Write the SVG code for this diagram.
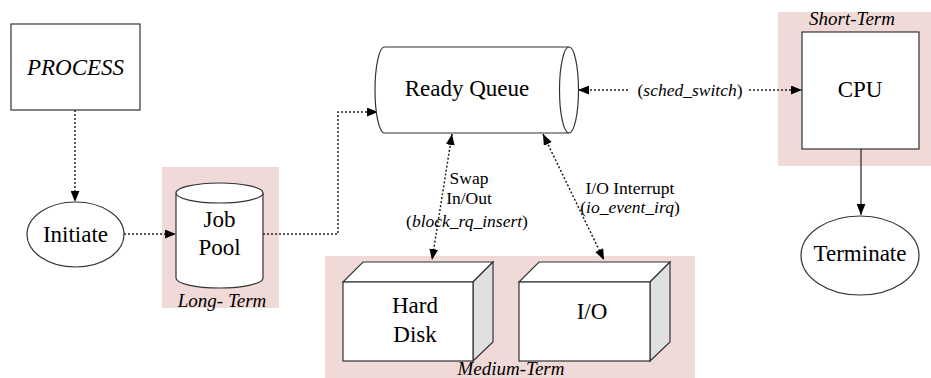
<svg xmlns="http://www.w3.org/2000/svg" width="931" height="378" viewBox="0 0 931 378" font-family="Liberation Serif, serif">
<style>
.nodelabel{font-family:"Liberation Serif",serif;font-size:23px;text-anchor:middle;fill:#000}
.edgelabel{font-family:"Liberation Serif",serif;font-size:17.5px;text-anchor:middle;fill:#000}
.clusterlabel{font-family:"Liberation Serif",serif;font-size:19px;font-style:italic;text-anchor:middle;fill:#000}
.ital{font-style:italic}
.cluster{fill:#f0dad8;stroke:none}
.shape{fill:#fff;stroke:#333;stroke-width:1.2}
.side{fill:#e0e0e0;stroke:#333;stroke-width:1.2}
.dot{fill:none;stroke:#222;stroke-width:1.5;stroke-dasharray:2,2}
.solid{fill:none;stroke:#333;stroke-width:1.3}
</style>
<defs>
<marker id="ah" viewBox="0 0 10 8" refX="10" refY="4" markerWidth="11" markerHeight="9" markerUnits="userSpaceOnUse" orient="auto-start-reverse">
<path d="M0,0 L10,4 L0,8 Z" fill="#000"/>
</marker>
</defs>
<g id="clusters">
<rect id="cluster-long" class="cluster" x="162" y="167" width="117" height="141"/>
<rect id="cluster-medium" class="cluster" x="325" y="256" width="370" height="122"/>
<rect id="cluster-short" class="cluster" x="778" y="12" width="153" height="154"/>
<text class="clusterlabel" font-family="Liberation Serif, serif" x="222" y="307">Long- Term</text>
<text class="clusterlabel" font-family="Liberation Serif, serif" x="511" y="375">Medium-Term</text>
<text class="clusterlabel" font-family="Liberation Serif, serif" x="852" y="25">Short-Term</text>
</g>
<g id="edges">
<path class="dot" d="M75,110 L75,202" marker-end="url(#ah)"/>
<path class="dot" d="M124,234 L176,234" marker-end="url(#ah)"/>
<path class="dot" d="M263,234 L338,234 L338,112 L378,112" marker-end="url(#ah)"/>
<path class="dot" d="M578,90 L630,90" marker-start="url(#ah)"/>
<path class="dot" d="M749,90 L802,90" marker-end="url(#ah)"/>
<path class="dot" d="M452,134 L432,260" marker-start="url(#ah)" marker-end="url(#ah)"/>
<path class="dot" d="M543,134 L604,260" marker-start="url(#ah)" marker-end="url(#ah)"/>
<path class="solid" d="M861,149 L861,215" marker-end="url(#ah)"/>
<text class="edgelabel" font-family="Liberation Serif, serif" x="469" y="184">Swap</text>
<text class="edgelabel" font-family="Liberation Serif, serif" x="469" y="204">In/Out</text>
<text class="edgelabel" font-family="Liberation Serif, serif" x="467" y="227">(<tspan class="ital">block_rq_insert</tspan>)</text>
<text class="edgelabel" font-family="Liberation Serif, serif" x="630" y="194">I/O Interrupt</text>
<text class="edgelabel" font-family="Liberation Serif, serif" x="630" y="213">(<tspan class="ital">io_event_irq</tspan>)</text>
<text class="edgelabel" font-family="Liberation Serif, serif" x="690" y="96">(<tspan class="ital">sched_switch</tspan>)</text>
</g>
<g id="process">
<rect class="shape" x="11" y="24" width="129" height="86"/>
<text class="nodelabel ital" font-family="Liberation Serif, serif" x="75.5" y="75" font-size="24">PROCESS</text>
</g>
<g id="initiate">
<ellipse class="shape" cx="75.5" cy="234.5" rx="48.5" ry="32.5"/>
<text class="nodelabel" font-family="Liberation Serif, serif" x="75.5" y="242">Initiate</text>
</g>
<g id="jobpool">
<path class="shape" d="M176,193 L176,278 A43.5,10 0 0 0 263,278 L263,193"/>
<ellipse class="shape" cx="219.5" cy="193" rx="43.5" ry="10"/>
<text class="nodelabel" font-family="Liberation Serif, serif" x="219.5" y="227">Job</text>
<text class="nodelabel" font-family="Liberation Serif, serif" x="219.5" y="255">Pool</text>
</g>
<g id="readyqueue">
<path class="shape" d="M569,47 L384.5,47 A9.5,43 0 0 0 384.5,133 L569,133"/>
<ellipse class="shape" cx="569" cy="90" rx="9.5" ry="43"/>
<text class="nodelabel" font-family="Liberation Serif, serif" x="467" y="96">Ready Queue</text>
</g>
<g id="cpu">
<rect class="shape" x="802" y="32" width="117" height="117"/>
<text class="nodelabel" font-family="Liberation Serif, serif" x="860" y="97">CPU</text>
</g>
<g id="terminate">
<ellipse class="shape" cx="860" cy="255.5" rx="59" ry="39.5"/>
<text class="nodelabel" font-family="Liberation Serif, serif" x="860" y="261" font-size="19.5">Terminate</text>
</g>
<g id="harddisk">
<path class="shape" d="M343,282 L363,262 L493,262 L473,282 Z"/>
<path class="side" d="M473,282 L493,262 L493,342 L473,361 Z"/>
<rect class="shape" x="343" y="282" width="130" height="79"/>
<text class="nodelabel" font-family="Liberation Serif, serif" x="415" y="313">Hard</text>
<text class="nodelabel" font-family="Liberation Serif, serif" x="415" y="342">Disk</text>
</g>
<g id="io">
<path class="shape" d="M519,282 L539,262 L670,262 L650,282 Z"/>
<path class="side" d="M650,282 L670,262 L670,342 L650,361 Z"/>
<rect class="shape" x="519" y="282" width="131" height="79"/>
<text class="nodelabel" font-family="Liberation Serif, serif" x="592" y="319">I/O</text>
</g>
</svg>
